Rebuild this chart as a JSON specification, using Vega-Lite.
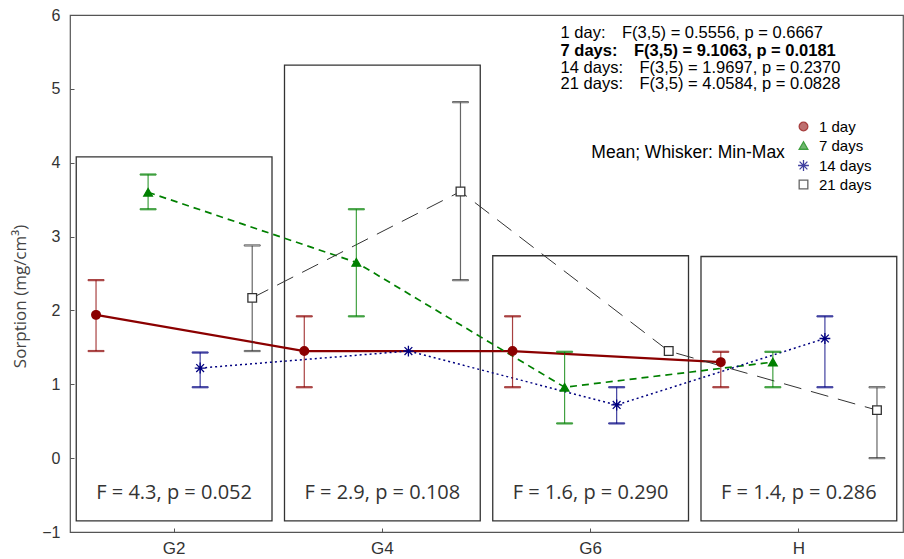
{
  "$schema": "https://vega.github.io/schema/vega-lite/v6.json",
  "width": 833,
  "height": 517,
  "autosize": "none",
  "padding": {"left": 70, "top": 15, "right": 1, "bottom": 27},
  "background": "white",
  "config": {
    "view": {"stroke": "#555", "strokeWidth": 1.2},
    "axis": {"grid": false, "domain": false},
    "font": "Liberation Sans"
  },
  "datasets": {
    "stats": [
      {"group": "G2", "day": "1 day", "mean": 1.94, "min": 1.45, "max": 2.41},
      {"group": "G2", "day": "7 days", "mean": 3.60, "min": 3.37, "max": 3.84},
      {"group": "G2", "day": "14 days", "mean": 1.22, "min": 0.96, "max": 1.43},
      {"group": "G2", "day": "21 days", "mean": 2.17, "min": 1.45, "max": 2.88},
      {"group": "G4", "day": "1 day", "mean": 1.45, "min": 0.96, "max": 1.92},
      {"group": "G4", "day": "7 days", "mean": 2.65, "min": 1.92, "max": 3.37},
      {"group": "G4", "day": "14 days", "mean": 1.45, "min": 1.45, "max": 1.45},
      {"group": "G4", "day": "21 days", "mean": 3.61, "min": 2.41, "max": 4.82},
      {"group": "G6", "day": "1 day", "mean": 1.45, "min": 0.96, "max": 1.92},
      {"group": "G6", "day": "7 days", "mean": 0.96, "min": 0.47, "max": 1.44},
      {"group": "G6", "day": "14 days", "mean": 0.72, "min": 0.47, "max": 0.96},
      {"group": "G6", "day": "21 days", "mean": 1.45, "min": 1.45, "max": 1.45},
      {"group": "H", "day": "1 day", "mean": 1.30, "min": 0.96, "max": 1.44},
      {"group": "H", "day": "7 days", "mean": 1.30, "min": 0.96, "max": 1.44},
      {"group": "H", "day": "14 days", "mean": 1.62, "min": 0.96, "max": 1.92},
      {"group": "H", "day": "21 days", "mean": 0.65, "min": 0.0, "max": 0.96}
    ],
    "boxes": [
      {"group": "G2", "top": 4.08, "label": "F = 4.3, p = 0.052"},
      {"group": "G4", "top": 5.32, "label": "F = 2.9, p = 0.108"},
      {"group": "G6", "top": 2.74, "label": "F = 1.6, p = 0.290"},
      {"group": "H", "top": 2.73, "label": "F = 1.4, p = 0.286"}
    ],
    "tests": [
      {"line": "1 day:\u2002\u2002F(3,5) = 0.5556, p = 0.6667", "row": "a"},
      {"line": "7 days:\u2002\u2002F(3,5) = 9.1063, p = 0.0181", "row": "b"},
      {"line": "14 days:\u2002\u2002F(3,5) = 1.9697, p = 0.2370", "row": "c"},
      {"line": "21 days:\u2002\u2002F(3,5) = 4.0584, p = 0.0828", "row": "d"}
    ]
  },
  "layer": [
    {
      "data": {"name": "boxes"},
      "mark": {"type": "bar", "fill": "transparent", "stroke": "#333", "strokeWidth": 1.3, "width": {"band": 0.94}},
      "encoding": {
        "x": {"field": "group", "type": "nominal", "scale": {"type": "band", "domain": ["G2", "G4", "G6", "H"], "paddingInner": 0, "paddingOuter": 0},
              "axis": {"labelAngle": 0, "labelFontSize": 17, "labelColor": "#333", "tickSize": -4, "tickColor": "#555", "labelPadding": 12}, "title": null},
        "y": {"field": "top", "type": "quantitative", "scale": {"domain": [-1, 6], "nice": false, "zero": false},
              "axis": {"values": [-1, 0, 1, 2, 3, 4, 5, 6], "format": "d", "labelFontSize": 16, "labelColor": "#333", "tickSize": -4, "tickColor": "#555", "labelPadding": 14,
                       "titleFont": "Open Sans", "titleFontSize": 17, "titleFontWeight": "normal", "titleColor": "#444", "titleX": -50, "titleY": 281, "titleAngle": -90, "titleBaseline": "middle", "titleAlign": "center"},
              "title": "Sorption (mg/cm³)"},
        "y2": {"datum": -0.85}
      }
    },
    {
      "data": {"name": "boxes"},
      "mark": {"type": "text", "font": "Open Sans", "fontSize": 20, "color": "#333", "baseline": "middle", "align": "center"},
      "encoding": {
        "x": {"field": "group", "type": "nominal"},
        "y": {"datum": -0.47},
        "text": {"field": "label"}
      }
    },
    {
      "data": {"name": "stats"},
      "transform": [{"filter": "datum.day === '1 day'"}],
      "mark": {"type": "line", "strokeWidth": 2.2},
      "encoding": {
        "x": {"field": "group", "type": "nominal"},
        "xOffset": {"field": "day", "type": "nominal", "scale": {"domain": ["1 day", "7 days", "14 days", "21 days"], "paddingInner": 0, "paddingOuter": 0}},
        "y": {"field": "mean", "type": "quantitative"},
        "stroke": {"field": "day", "type": "nominal", "scale": {"domain": ["1 day", "7 days", "14 days", "21 days"], "range": ["#8b0000", "#008000", "#000080", "#333333"]}, "title": null}
      }
    },
    {
      "data": {"name": "stats"},
      "transform": [{"filter": "datum.day === '7 days'"}],
      "mark": {"type": "line", "strokeWidth": 1.7, "strokeDash": [7, 5]},
      "encoding": {
        "x": {"field": "group", "type": "nominal"},
        "xOffset": {"field": "day", "type": "nominal"},
        "y": {"field": "mean", "type": "quantitative"},
        "stroke": {"field": "day", "type": "nominal", "title": null}
      }
    },
    {
      "data": {"name": "stats"},
      "transform": [{"filter": "datum.day === '14 days'"}],
      "mark": {"type": "line", "strokeWidth": 1.5, "strokeDash": [2, 3]},
      "encoding": {
        "x": {"field": "group", "type": "nominal"},
        "xOffset": {"field": "day", "type": "nominal"},
        "y": {"field": "mean", "type": "quantitative"},
        "stroke": {"field": "day", "type": "nominal", "title": null}
      }
    },
    {
      "data": {"name": "stats"},
      "transform": [{"filter": "datum.day === '21 days'"}],
      "mark": {"type": "line", "strokeWidth": 1, "strokeDash": [18, 10]},
      "encoding": {
        "x": {"field": "group", "type": "nominal"},
        "xOffset": {"field": "day", "type": "nominal"},
        "y": {"field": "mean", "type": "quantitative"},
        "stroke": {"field": "day", "type": "nominal", "title": null}
      }
    },
    {
      "data": {"name": "stats"},
      "transform": [{"filter": "datum.max > datum.min"}],
      "mark": {"type": "rule", "strokeWidth": 1.2, "strokeOpacity": 0.75},
      "encoding": {
        "x": {"field": "group", "type": "nominal"},
        "xOffset": {"field": "day", "type": "nominal"},
        "y": {"field": "min", "type": "quantitative"},
        "y2": {"field": "max"},
        "stroke": {"field": "day", "type": "nominal", "title": null}
      }
    },
    {
      "data": {"name": "stats"},
      "transform": [{"filter": "datum.max > datum.min"}, {"fold": ["min", "max"], "as": ["k", "v"]}],
      "mark": {"type": "tick", "orient": "horizontal", "size": 16, "thickness": 1.2, "opacity": 0.75},
      "encoding": {
        "x": {"field": "group", "type": "nominal"},
        "xOffset": {"field": "day", "type": "nominal"},
        "y": {"field": "v", "type": "quantitative"},
        "stroke": {"field": "day", "type": "nominal", "title": null},
        "fill": {"field": "day", "type": "nominal", "title": null}
      }
    },
    {
      "data": {"name": "stats"},
      "mark": {"type": "point", "filled": true, "opacity": 1, "strokeWidth": 1.3, "size": 75},
      "encoding": {
        "x": {"field": "group", "type": "nominal"},
        "xOffset": {"field": "day", "type": "nominal"},
        "y": {"field": "mean", "type": "quantitative"},
        "shape": {"field": "day", "type": "nominal", "title": null,
                  "scale": {"domain": ["1 day", "7 days", "14 days", "21 days"], "range": ["circle", "triangle-up", "M-1.25,0L1.25,0M0,-1.25L0,1.25M-0.9,-0.9L0.9,0.9M-0.9,0.9L0.9,-0.9", "square"]},
                  "legend": {"orient": "none", "legendX": 726, "legendY": 104, "padding": 0, "labelFontSize": 15, "labelFont": "Liberation Sans", "labelColor": "#000", "rowPadding": 3, "symbolSize": 75, "symbolStrokeWidth": 1.3, "labelOffset": 8}},
        "fill": {"field": "day", "type": "nominal", "title": null, "scale": {"domain": ["1 day", "7 days", "14 days", "21 days"], "range": ["#8b0000", "#008000", "#000080", "#ffffff"]}},
        "stroke": {"field": "day", "type": "nominal", "title": null}
      }
    },
    {
      "data": {"name": "tests"},
      "transform": [{"filter": "datum.row === 'a'"}],
      "mark": {"type": "text", "align": "left", "baseline": "middle", "fontSize": 16.5, "dx": -4, "color": "#000"},
      "encoding": {
        "x": {"datum": "G6", "type": "nominal"},
        "xOffset": {"datum": "7 days", "type": "nominal"},
        "y": {"datum": 5.756, "type": "quantitative"},
        "text": {"field": "line"}
      }
    },
    {
      "data": {"name": "tests"},
      "transform": [{"filter": "datum.row === 'b'"}],
      "mark": {"type": "text", "align": "left", "baseline": "middle", "fontSize": 16.5, "dx": -4, "color": "#000", "fontWeight": "bold"},
      "encoding": {
        "x": {"datum": "G6", "type": "nominal"},
        "xOffset": {"datum": "7 days", "type": "nominal"},
        "y": {"datum": 5.513, "type": "quantitative"},
        "text": {"field": "line"}
      }
    },
    {
      "data": {"name": "tests"},
      "transform": [{"filter": "datum.row === 'c'"}],
      "mark": {"type": "text", "align": "left", "baseline": "middle", "fontSize": 16.5, "dx": -4, "color": "#000"},
      "encoding": {
        "x": {"datum": "G6", "type": "nominal"},
        "xOffset": {"datum": "7 days", "type": "nominal"},
        "y": {"datum": 5.289, "type": "quantitative"},
        "text": {"field": "line"}
      }
    },
    {
      "data": {"name": "tests"},
      "transform": [{"filter": "datum.row === 'd'"}],
      "mark": {"type": "text", "align": "left", "baseline": "middle", "fontSize": 16.5, "dx": -4, "color": "#000"},
      "encoding": {
        "x": {"datum": "G6", "type": "nominal"},
        "xOffset": {"datum": "7 days", "type": "nominal"},
        "y": {"datum": 5.066, "type": "quantitative"},
        "text": {"field": "line"}
      }
    },
    {
      "data": {"values": [{}]},
      "mark": {"type": "text", "align": "right", "baseline": "middle", "fontSize": 17.5, "dx": -14, "color": "#000", "text": "Mean; Whisker: Min-Max"},
      "encoding": {
        "x": {"datum": "H", "type": "nominal"},
        "y": {"datum": 4.13, "type": "quantitative"}
      }
    }
  ]
}
